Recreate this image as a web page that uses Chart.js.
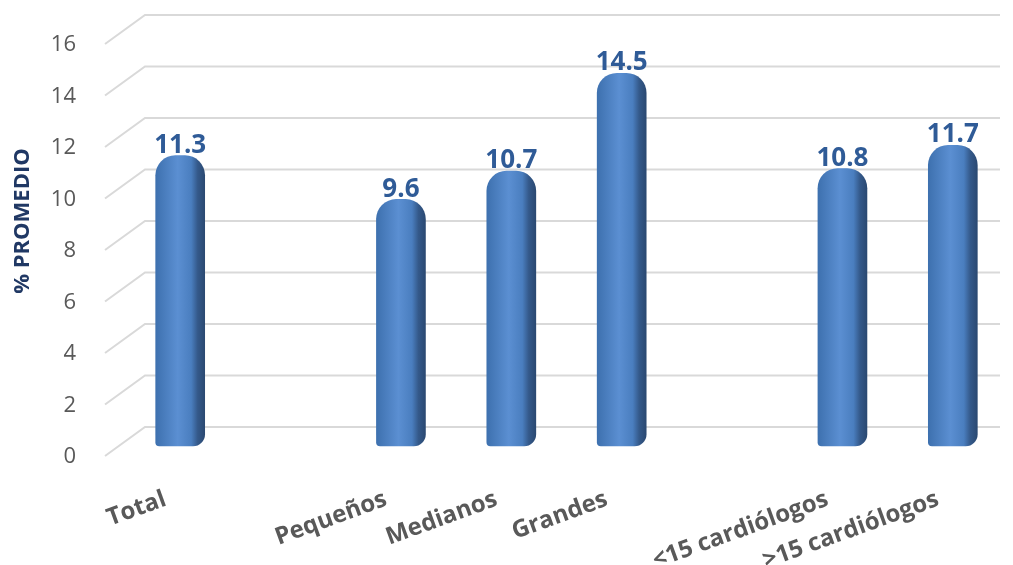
<!DOCTYPE html>
<html>
<head>
<meta charset="utf-8">
<script src="https://cdn.jsdelivr.net/npm/chart.js@4/dist/chart.umd.min.js"></script>
<style>
  html, body { margin: 0; padding: 0; background: #fff; }
  #wrap { width: 1013px; height: 565px; }
</style>
</head>
<body>
<div id="wrap"><canvas id="barChart"></canvas></div>
<script>
var categories = ["Total", "", "Pequeños", "Medianos", "Grandes", "", "<15 cardiólogos", ">15 cardiólogos"];
var promedio = [11.3, null, 9.6, 10.7, 14.5, null, 10.8, 11.7];
var yTicks = [0, 2, 4, 6, 8, 10, 12, 14, 16];

// back wall grid with the slanted floor edge
var wallGrid = {
  id: 'wallGrid',
  beforeDatasetsDraw: function(chart) {
    var ctx = chart.ctx, y = chart.scales.y, a = chart.chartArea;
    ctx.save();
    ctx.strokeStyle = '#d9d9d9';
    ctx.lineWidth = 2;
    yTicks.forEach(function(v) {
      var yp = y.getPixelForValue(v);
      ctx.beginPath();
      ctx.moveTo(a.left - 20, yp + 29);
      ctx.lineTo(a.left + 20, yp);
      ctx.lineTo(a.right - 8, yp);
      ctx.stroke();
    });
    ctx.restore();
  }
};

var barLabels = {
  id: 'barLabels',
  afterDatasetsDraw: function(chart) {
    var ctx = chart.ctx;
    var meta = chart.getDatasetMeta(0);
    ctx.save();
    ctx.font = 'bold 26px "Open Sans"';
    ctx.fillStyle = '#2f5b97';
    ctx.textAlign = 'center';
    ctx.textBaseline = 'middle';
    meta.data.forEach(function(el, i) {
      var v = promedio[i];
      if (v === null) return;
      ctx.fillText(v.toFixed(1), el.x, el.y - 10);
    });
    ctx.restore();
  }
};

function cylinder(c) {
  var chart = c.chart, xs = chart.scales.x;
  if (!xs || !chart.chartArea) return '#4a7ebb';
  var cx = xs.getPixelForValue(c.dataIndex), w = 25;
  var g = chart.ctx.createLinearGradient(cx - w, 0, cx + w, 0);
  g.addColorStop(0, '#3d70ae');
  g.addColorStop(0.45, '#5b8fd2');
  g.addColorStop(0.72, '#4a7ebf');
  g.addColorStop(0.85, '#34598a');
  g.addColorStop(1, '#2a4870');
  return g;
}

new Chart(document.getElementById('barChart'), {
  type: 'bar',
  data: {
    labels: categories,
    datasets: [{
      data: promedio,
      yAxisID: 'yb',
      base: 0,
      clip: false,
      backgroundColor: cylinder,
      borderSkipped: false,
      borderRadius: { topLeft: 20, topRight: 20, bottomLeft: 4, bottomRight: 12 },
      barPercentage: 0.45,
      categoryPercentage: 1
    }]
  },
  options: {
    responsive: true,
    maintainAspectRatio: false,
    animation: false,
    layout: { padding: { top: 15, right: 5 } },
    plugins: { legend: { display: false }, tooltip: { enabled: false } },
    scales: {
      x: {
        grid: { display: false },
        border: { display: false },
        afterFit: function(s) { s.height = 138; },
        ticks: {
          autoSkip: false,
          minRotation: 20,
          maxRotation: 20,
          padding: 50,
          labelOffset: -15,
          color: '#595959',
          font: { family: '"Open Sans"', size: 24, weight: 'bold' }
        }
      },
      y: {
        min: 0,
        max: 16,
        afterFit: function(s) { s.width = 125; s.paddingTop = 0; s.paddingBottom = 0; },
        afterBuildTicks: function(s) { s.ticks = yTicks.map(function(v) { return { value: v }; }); },
        grid: { display: false },
        border: { display: false },
        ticks: {
          padding: 41,
          labelOffset: 30,
          color: '#595959',
          font: { family: '"Open Sans"', size: 22 }
        },
        title: {
          display: true,
          text: '% PROMEDIO',
          color: '#203864',
          padding: { top: 10, bottom: 4 },
          font: { family: '"Open Sans"', size: 22, weight: 'bold' }
        }
      },
      yb: { display: false, min: 0.75, max: 16.75 }
    }
  },
  plugins: [wallGrid, barLabels]
});
</script>
</body>
</html>
